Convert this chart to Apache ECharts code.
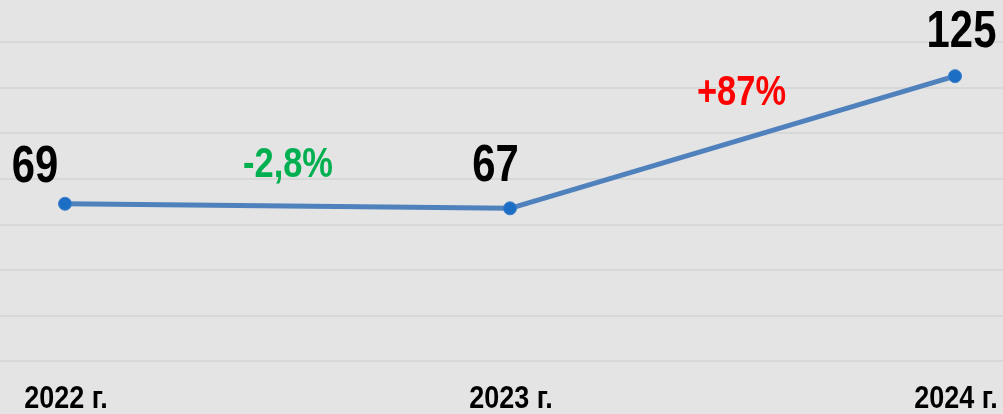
<!DOCTYPE html>
<html><head><meta charset="utf-8">
<script src="https://cdn.jsdelivr.net/npm/echarts@6/dist/echarts.min.js"></script>
<style>html,body{margin:0;padding:0;background:#e4e4e4;overflow:hidden}#c{width:1003px;height:414px}</style>
</head><body><div id="c"></div>
<script>
const categories = ['2022 г.', '2023 г.', '2024 г.'];
const values = [69, 67, 125];
const valueLabels = ['69', '67', '125'];
const changeLabels = ['-2,8%', '+87%'];
const changeColors = ['#00b050', '#ff0000'];
const yTicks = [0, 20, 40, 60, 80, 100, 120, 140];

const FONT = "'Liberation Sans', Arial, sans-serif";
const chart = echarts.init(document.getElementById('c'));
const yBase = { type: 'value', min: yTicks[0], max: yTicks[yTicks.length - 1], interval: 20,
  axisLabel: { show: false }, axisLine: { show: false }, axisTick: { show: false } };
const option = {
  backgroundColor: '#e4e4e4',
  animation: false,
  grid: [
    { left: 65, right: 48, top: 42, bottom: 53, outerBoundsMode: 'none', containLabel: false },
    { left: 0, right: 0, top: 42, bottom: 53, outerBoundsMode: 'none', containLabel: false }
  ],
  xAxis: [
    { gridIndex: 0, type: 'category', data: categories, boundaryGap: false,
      axisLine: { show: false }, axisTick: { show: false }, splitLine: { show: false }, axisLabel: { show: false } },
    { gridIndex: 1, type: 'value', show: false }
  ],
  yAxis: [
    Object.assign({ gridIndex: 0, splitLine: { show: false } }, yBase),
    Object.assign({ gridIndex: 1, splitLine: { lineStyle: { color: '#d8d8d8', width: 2 } } }, yBase)
  ],
  series: [{
    type: 'line', xAxisIndex: 0, yAxisIndex: 0, z: 5,
    data: values,
    lineStyle: { color: '#4f81bd', width: 5 },
    itemStyle: { color: '#1c6ec4', borderColor: '#3b7fcc', borderWidth: 1 },
    symbol: 'circle', symbolSize: 13
  }]
};
chart.setOption(option);

const px = (i, v) => chart.convertToPixel({ seriesIndex: 0 }, [i, v]);
const txt = (t, x, y, size, color, sx) => ({
  type: 'text', x: x, y: y, scaleX: sx, z: 10,
  style: { text: t, fill: color, font: 'bold ' + size + 'px ' + FONT, textAlign: 'center', textVerticalAlign: 'middle' }
});
const graphics = [];
const valueOffsets = [[-30, -36], [-14.5, -41.5], [6.5, -43]];
values.forEach((v, i) => {
  const p = px(i, v);
  graphics.push(txt(valueLabels[i], p[0] + valueOffsets[i][0], p[1] + valueOffsets[i][1], 51, '#000', 0.82));
});
const pctOffsets = [[0.5, -40.5], [9, -48.5]];
changeLabels.forEach((t, i) => {
  const a = px(i, values[i]);
  const b = px(i + 1, values[i + 1]);
  graphics.push(txt(t, (a[0] + b[0]) / 2 + pctOffsets[i][0], (a[1] + b[1]) / 2 + pctOffsets[i][1], 42, changeColors[i], 0.82));
});
categories.forEach((c, i) => {
  const p = px(i, yTicks[0]);
  graphics.push(txt(c, p[0] + 1, p[1] + 38, 31, '#000', 0.87));
});
chart.setOption({ graphic: graphics });
</script>
</body></html>
